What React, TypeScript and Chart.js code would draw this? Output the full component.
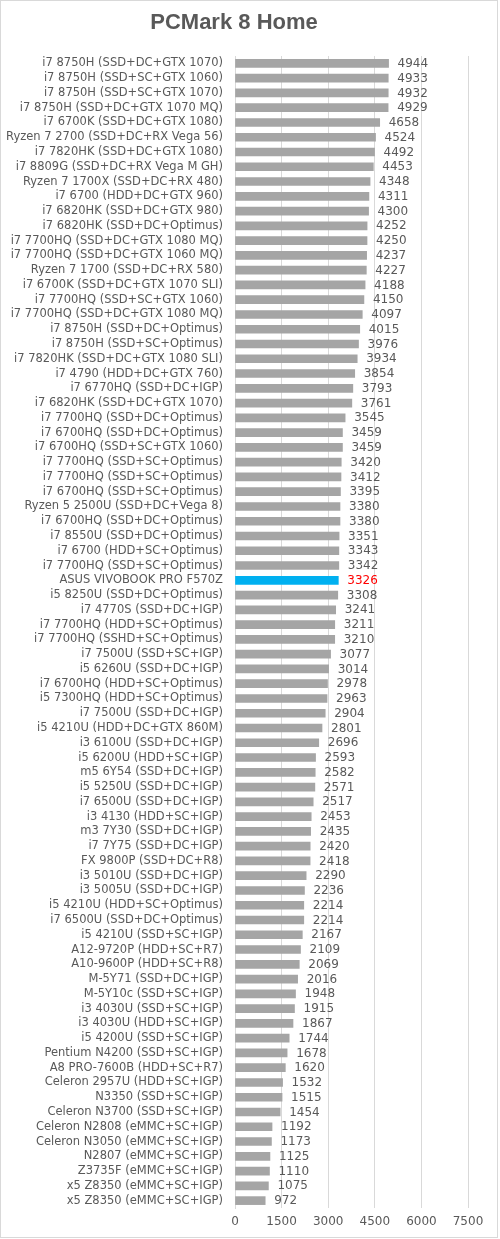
import React, { useEffect, useRef } from "react";
import { Chart, registerables } from "chart.js";

Chart.register(...registerables);

const chartTitle = "PCMark 8 Home";

const categories: string[] = [
  "i7 8750H (SSD+DC+GTX 1070)",
  "i7 8750H (SSD+SC+GTX 1060)",
  "i7 8750H (SSD+SC+GTX 1070)",
  "i7 8750H (SSD+DC+GTX 1070 MQ)",
  "i7 6700K (SSD+DC+GTX 1080)",
  "Ryzen 7 2700 (SSD+DC+RX Vega 56)",
  "i7 7820HK (SSD+DC+GTX 1080)",
  "i7 8809G (SSD+DC+RX Vega M GH)",
  "Ryzen 7 1700X (SSD+DC+RX 480)",
  "i7 6700 (HDD+DC+GTX 960)",
  "i7 6820HK (SSD+DC+GTX 980)",
  "i7 6820HK (SSD+DC+Optimus)",
  "i7 7700HQ (SSD+DC+GTX 1080 MQ)",
  "i7 7700HQ (SSD+DC+GTX 1060 MQ)",
  "Ryzen 7 1700 (SSD+DC+RX 580)",
  "i7 6700K (SSD+DC+GTX 1070 SLI)",
  "i7 7700HQ (SSD+SC+GTX 1060)",
  "i7 7700HQ (SSD+DC+GTX 1080 MQ)",
  "i7 8750H (SSD+DC+Optimus)",
  "i7 8750H (SSD+SC+Optimus)",
  "i7 7820HK (SSD+DC+GTX 1080 SLI)",
  "i7 4790 (HDD+DC+GTX 760)",
  "i7 6770HQ (SSD+DC+IGP)",
  "i7 6820HK (SSD+DC+GTX 1070)",
  "i7 7700HQ (SSD+DC+Optimus)",
  "i7 6700HQ (SSD+DC+Optimus)",
  "i7 6700HQ (SSD+SC+GTX 1060)",
  "i7 7700HQ (SSD+SC+Optimus)",
  "i7 7700HQ (SSD+SC+Optimus)",
  "i7 6700HQ (SSD+SC+Optimus)",
  "Ryzen 5 2500U (SSD+DC+Vega 8)",
  "i7 6700HQ (SSD+DC+Optimus)",
  "i7 8550U (SSD+DC+Optimus)",
  "i7 6700 (HDD+SC+Optimus)",
  "i7 7700HQ (SSD+SC+Optimus)",
  "ASUS VIVOBOOK PRO F570Z",
  "i5 8250U (SSD+DC+Optimus)",
  "i7 4770S (SSD+DC+IGP)",
  "i7 7700HQ (HDD+SC+Optimus)",
  "i7 7700HQ (SSHD+SC+Optimus)",
  "i7 7500U (SSD+SC+IGP)",
  "i5 6260U (SSD+DC+IGP)",
  "i7 6700HQ (HDD+SC+Optimus)",
  "i5 7300HQ (HDD+SC+Optimus)",
  "i7 7500U (SSD+DC+IGP)",
  "i5 4210U (HDD+DC+GTX 860M)",
  "i3 6100U (SSD+DC+IGP)",
  "i5 6200U (HDD+SC+IGP)",
  "m5 6Y54 (SSD+DC+IGP)",
  "i5 5250U (SSD+DC+IGP)",
  "i7 6500U (SSD+DC+IGP)",
  "i3 4130 (HDD+SC+IGP)",
  "m3 7Y30 (SSD+DC+IGP)",
  "i7 7Y75 (SSD+DC+IGP)",
  "FX 9800P (SSD+DC+R8)",
  "i3 5010U (SSD+DC+IGP)",
  "i3 5005U (SSD+DC+IGP)",
  "i5 4210U (HDD+SC+Optimus)",
  "i7 6500U (SSD+DC+Optimus)",
  "i5 4210U (SSD+SC+IGP)",
  "A12-9720P (HDD+SC+R7)",
  "A10-9600P (HDD+SC+R8)",
  "M-5Y71 (SSD+DC+IGP)",
  "M-5Y10c (SSD+SC+IGP)",
  "i3 4030U (SSD+SC+IGP)",
  "i3 4030U (HDD+SC+IGP)",
  "i5 4200U (SSD+SC+IGP)",
  "Pentium N4200 (SSD+SC+IGP)",
  "A8 PRO-7600B (HDD+SC+R7)",
  "Celeron 2957U (HDD+SC+IGP)",
  "N3350 (SSD+SC+IGP)",
  "Celeron N3700 (SSD+SC+IGP)",
  "Celeron N2808 (eMMC+SC+IGP)",
  "Celeron N3050 (eMMC+SC+IGP)",
  "N2807 (eMMC+SC+IGP)",
  "Z3735F (eMMC+SC+IGP)",
  "x5 Z8350 (eMMC+SC+IGP)",
  "x5 Z8350 (eMMC+SC+IGP)",
];

const scores: number[] = [
  4944, 4933, 4932, 4929, 4658, 4524, 4492, 4453, 4348, 4311,
  4300, 4252, 4250, 4237, 4227, 4188, 4150, 4097, 4015, 3976,
  3934, 3854, 3793, 3761, 3545, 3459, 3459, 3420, 3412, 3395,
  3380, 3380, 3351, 3343, 3342, 3326, 3308, 3241, 3211, 3210,
  3077, 3014, 2978, 2963, 2904, 2801, 2696, 2593, 2582, 2571,
  2517, 2453, 2435, 2420, 2418, 2290, 2236, 2214, 2214, 2167,
  2109, 2069, 2016, 1948, 1915, 1867, 1744, 1678, 1620, 1532,
  1515, 1454, 1192, 1173, 1125, 1110, 1075, 972,
];

const highlightIndex = 35; // ASUS VIVOBOOK PRO F570Z
const xTickValues: number[] = [0, 1500, 3000, 4500, 6000, 7500];

const BAR_GREY = "#A5A5A5";
const BAR_BLUE = "#00B0F0";
const TEXT_GREY = "#595959";
const GRID_GREY = "#D9D9D9";

const backgroundPlugin = {
  id: "bgBorder",
  beforeDraw(chart: any) {
    const { ctx, width, height } = chart;
    ctx.save();
    ctx.fillStyle = "#FFFFFF";
    ctx.fillRect(0, 0, width, height);
    ctx.strokeStyle = GRID_GREY;
    ctx.lineWidth = 1;
    ctx.strokeRect(0.5, 0.5, width - 3, height - 2);
    ctx.restore();
  },
};

const valueLabelPlugin = {
  id: "valueLabels",
  afterDatasetsDraw(chart: any) {
    const { ctx } = chart;
    const meta = chart.getDatasetMeta(0);
    ctx.save();
    ctx.font = "12px 'DejaVu Sans'";
    ctx.textAlign = "left";
    ctx.textBaseline = "middle";
    meta.data.forEach((bar: any, i: number) => {
      ctx.fillStyle = i === highlightIndex ? "#FF0000" : TEXT_GREY;
      ctx.fillText(String(scores[i]), bar.x + 9, bar.y + 0.5);
    });
    ctx.restore();
  },
};

export default function App() {
  const canvasRef = useRef<HTMLCanvasElement | null>(null);

  useEffect(() => {
    if (!canvasRef.current) return;
    const chart = new Chart(canvasRef.current, {
      type: "bar",
      data: {
        labels: categories,
        datasets: [
          {
            data: scores,
            backgroundColor: scores.map((_, i) => (i === highlightIndex ? BAR_BLUE : BAR_GREY)),
            borderWidth: 0,
            barThickness: 8,
          },
        ],
      },
      options: {
        indexAxis: "y",
        responsive: false,
        animation: false,
        devicePixelRatio: 1,
        layout: { padding: { left: 0, right: 32, top: 0, bottom: 0 } },
        plugins: {
          legend: { display: false },
          tooltip: { enabled: false },
          title: {
            display: true,
            text: chartTitle,
            color: TEXT_GREY,
            font: { family: "'Liberation Sans', Arial, sans-serif", size: 22, weight: "bold", lineHeight: 1.2 },
            padding: { top: 10, bottom: 19.6 },
          },
        },
        scales: {
          x: {
            type: "linear",
            min: 0,
            max: 7500,
            afterBuildTicks(scale: any) {
              scale.ticks = xTickValues.map((v) => ({ value: v }));
            },
            afterFit(scale: any) {
              scale.height = 31;
            },
            ticks: {
              color: TEXT_GREY,
              font: { family: "'DejaVu Sans'", size: 12 },
              padding: 7,
              maxRotation: 0,
              callback: (value: any) => String(value),
            },
            grid: { color: GRID_GREY, drawTicks: false, lineWidth: 1 },
            border: { display: false },
          },
          y: {
            type: "category",
            afterFit(scale: any) {
              scale.width = 235;
            },
            ticks: {
              color: TEXT_GREY,
              font: { family: "'DejaVu Sans'", size: 11.5 },
              autoSkip: false,
              padding: 12,
            },
            grid: { display: false, drawTicks: false },
            border: { display: true, color: GRID_GREY },
          },
        },
      },
      plugins: [backgroundPlugin, valueLabelPlugin],
    } as any);
    return () => chart.destroy();
  }, []);

  return (
    <div style={{ position: "absolute", left: 0, top: 0, width: 500, height: 1239 }}>
      <canvas ref={canvasRef} width={500} height={1239} style={{ width: 500, height: 1239, display: "block" }} />
    </div>
  );
}
